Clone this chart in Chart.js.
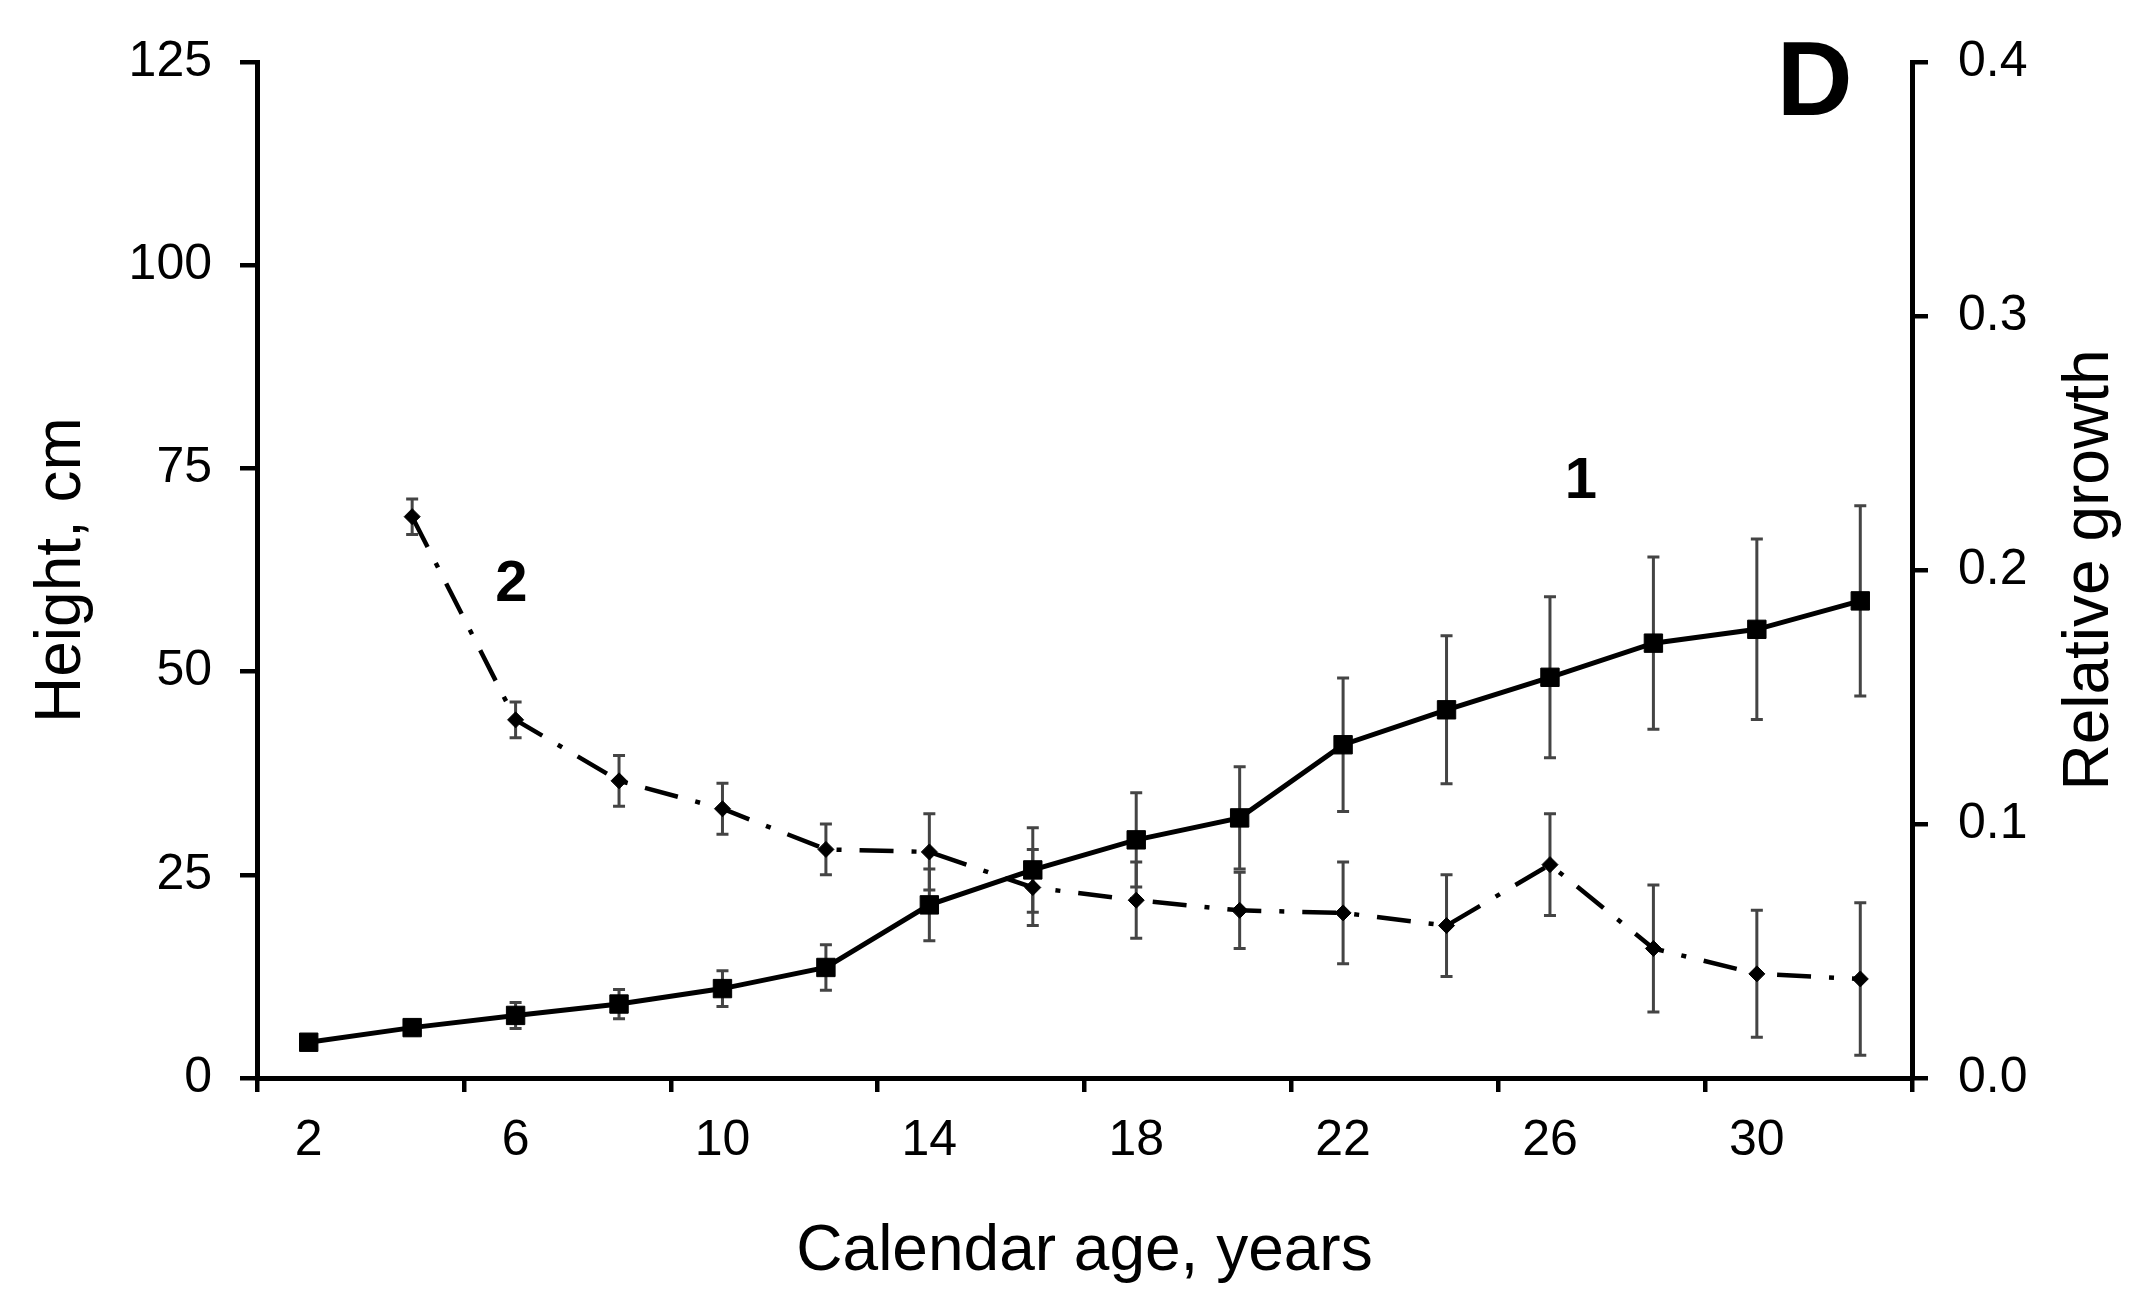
<!DOCTYPE html>
<html>
<head>
<meta charset="utf-8">
<script src="https://cdn.jsdelivr.net/npm/chart.js@4.4.1/dist/chart.umd.min.js"></script>
<style>
  html, body { margin: 0; padding: 0; background: #fff; }
  #wrap { width: 2148px; height: 1307px; }
</style>
</head>
<body>
<div id="wrap"><canvas id="chart"></canvas></div>
<script>
//Edad calendario (años)
const ages = ['2', '4', '6', '8', '10', '12', '14', '16', '18', '20', '22', '24', '26', '28', '30', '32'];

//Serie 1: altura, cm
const height = [4.4, 6.2, 7.7, 9.1, 11.0, 13.6, 21.3, 25.6, 29.3, 32.0, 41.0, 45.3, 49.3, 53.5, 55.2, 58.7];
const heightErr = [0.5, 0.9, 1.6, 1.8, 2.2, 2.8, 4.4, 5.2, 5.8, 6.3, 8.2, 9.1, 9.9, 10.6, 11.1, 11.7];

//Serie 2: crecimiento relativo
const growth = [null, 0.221, 0.141, 0.117, 0.106, 0.090, 0.089, 0.075, 0.070, 0.066, 0.065, 0.060, 0.084, 0.051, 0.041, 0.039];
const growthErr = [null, 0.007, 0.007, 0.010, 0.010, 0.010, 0.015, 0.015, 0.015, 0.015, 0.020, 0.020, 0.020, 0.025, 0.025, 0.030];

//Ticks
const heightTicks = [0, 25, 50, 75, 100, 125];
const growthTicks = [0, 0.1, 0.2, 0.3, 0.4];

const FONT = "'Liberation Sans', Arial, sans-serif";
Chart.defaults.font.family = FONT;
Chart.defaults.color = '#000';

//Barras de error
const errorBars = {
  id: 'errorBars',
  beforeDatasetsDraw(chart) {
    const ctx = chart.ctx;
    chart.data.datasets.forEach((ds, di) => {
      const meta = chart.getDatasetMeta(di);
      const scale = chart.scales[ds.yAxisID];
      ds.errors.forEach((e, i) => {
        const v = ds.data[i];
        if (v === null || e === null) return;
        const x = meta.data[i].x;
        const yTop = scale.getPixelForValue(v + e);
        const yBot = scale.getPixelForValue(v - e);
        ctx.save();
        ctx.strokeStyle = '#444';
        ctx.lineWidth = 3;
        ctx.beginPath();
        ctx.moveTo(x, yTop); ctx.lineTo(x, yBot);
        ctx.moveTo(x - 6, yTop); ctx.lineTo(x + 6, yTop);
        ctx.moveTo(x - 6, yBot); ctx.lineTo(x + 6, yBot);
        ctx.stroke();
        ctx.restore();
      });
    });
  }
};

//Etiquetas "1", "2", "D" y título del eje derecho
const notes = {
  id: 'notes',
  afterDraw(chart) {
    const ctx = chart.ctx;
    const xs = chart.scales.x, ys = chart.scales.y, y2 = chart.scales.y2;
    const items = [
      { text: '1', x: 12.3, y: 73.3, size: 58 },
      { text: '2', x: 1.96, y: 60.7, size: 58 },
      { text: 'D', x: 14.56, y: 122.1, size: 105 }
    ];
    ctx.save();
    ctx.fillStyle = '#000';
    ctx.textAlign = 'center';
    ctx.textBaseline = 'middle';
    items.forEach(it => {
      ctx.font = `bold ${it.size}px ${FONT}`;
      ctx.fillText(it.text, xs.getPixelForValue(it.x), ys.getPixelForValue(it.y));
    });
    ctx.font = `64px ${FONT}`;
    ctx.translate(y2.right - 58, (chart.chartArea.top + chart.chartArea.bottom) / 2);
    ctx.rotate(-Math.PI / 2);
    ctx.fillText('Relative growth', 0, 0);
    ctx.restore();
  }
};

new Chart(document.getElementById('chart'), {
  type: 'line',
  data: {
    labels: ages,
    datasets: [
      {
        label: 'Height, cm',
        data: height,
        errors: heightErr,
        yAxisID: 'y',
        borderColor: '#000',
        borderWidth: 5,
        tension: 0,
        pointStyle: 'rect',
        pointRadius: 13,
        pointBackgroundColor: '#000',
        pointBorderColor: '#000',
        pointBorderWidth: 1
      },
      {
        label: 'Relative growth',
        data: growth,
        errors: growthErr,
        yAxisID: 'y2',
        borderColor: '#000',
        borderWidth: 4.5,
        borderDash: [34, 18, 5, 18],
        tension: 0,
        pointStyle: 'rectRot',
        pointRadius: 8,
        pointBackgroundColor: '#000',
        pointBorderColor: '#000',
        pointBorderWidth: 1
      }
    ]
  },
  options: {
    responsive: true,
    maintainAspectRatio: false,
    animation: false,
    layout: { padding: { top: 62, left: 0, right: 0, bottom: 0 } },
    plugins: { legend: { display: false }, tooltip: { enabled: false } },
    scales: {
      x: {
        type: 'category',
        offset: true,
        grid: {
          offset: true,
          drawOnChartArea: false,
          tickLength: 14,
          lineWidth: 4.5,
          color: c => (c.index === undefined || c.index % 2 === 0) ? '#000' : 'rgba(0,0,0,0)'
        },
        border: { display: true, color: '#000', width: 5 },
        ticks: {
          autoSkip: false,
          maxRotation: 0,
          padding: 19,
          font: { size: 50 },
          callback: (v, i) => i % 2 === 0 ? ages[i] : ''
        },
        title: { display: true, text: 'Calendar age, years', font: { size: 64 }, padding: { top: 0, bottom: 16 } },
        afterFit: s => { s.height = 229; }
      },
      y: {
        position: 'left',
        min: 0,
        max: 125,
        afterBuildTicks: s => { s.ticks = heightTicks.map(v => ({ value: v })); },
        ticks: { padding: 28, font: { size: 50 } },
        grid: { drawOnChartArea: false, tickLength: 17, lineWidth: 4.5, color: '#000' },
        border: { display: true, color: '#000', width: 5 },
        title: { display: true, text: 'Height, cm', font: { size: 64 }, padding: { top: 24, bottom: 0 } },
        afterFit: s => { s.width = 257; }
      },
      y2: {
        position: 'right',
        min: 0,
        max: 0.4,
        afterBuildTicks: s => { s.ticks = growthTicks.map(v => ({ value: v })); },
        ticks: { padding: 30, font: { size: 50 }, callback: v => v.toFixed(1) },
        grid: { drawOnChartArea: false, tickLength: 16, lineWidth: 4.5, color: '#000' },
        border: { display: true, color: '#000', width: 5 },
        afterFit: s => { s.width = 236; }
      }
    }
  },
  plugins: [errorBars, notes]
});
</script>
</body>
</html>
